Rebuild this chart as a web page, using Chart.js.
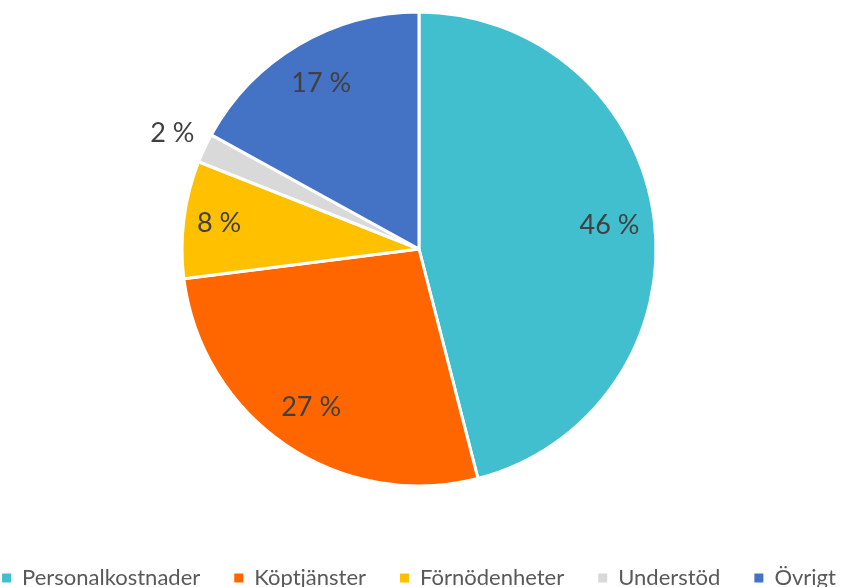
<!DOCTYPE html>
<html>
<head>
<meta charset="utf-8">
<script src="https://cdn.jsdelivr.net/npm/chart.js@4"></script>
<style>
  html, body { margin: 0; padding: 0; background: #fff; overflow: hidden; }
  /* canvas più grande della finestra: la legenda resta tagliata in basso come nell'originale */
  #wrap { position: absolute; left: -70px; top: -40px; width: 982px; height: 639px; }
</style>
</head>
<body>
<div id="wrap"><canvas id="grafico"></canvas></div>
<script>
'use strict';

const categorie = ['Personalkostnader', 'Köptjänster', 'Förnödenheter', 'Understöd', 'Övrigt'];
const valori = [46, 27, 8, 2, 17];
const colori = ['#41BFCE', '#FF6600', '#FFC000', '#D9D9D9', '#4472C4'];

// etichette percentuali dentro/fuori le fette
const etichettePlugin = {
  id: 'etichette',
  afterDatasetsDraw(chart) {
    const ctx = chart.ctx;
    const meta = chart.getDatasetMeta(0);
    const tot = valori.reduce((a, b) => a + b, 0);
    ctx.save();
    ctx.font = '27px Lato, "Open Sans", sans-serif';
    ctx.fillStyle = '#404040';
    ctx.textAlign = 'center';
    ctx.textBaseline = 'middle';
    meta.data.forEach((arc, i) => {
      const p = arc.getProps(['x', 'y', 'startAngle', 'endAngle', 'outerRadius'], true);
      const ang = (p.startAngle + p.endAngle) / 2;
      const pct = valori[i] / tot * 100;
      const r = pct < 5 ? p.outerRadius * 1.15 : p.outerRadius * (pct < 10 ? 0.85 : 0.81);
      ctx.fillText(Math.round(pct) + ' %', p.x + Math.cos(ang) * r, p.y + Math.sin(ang) * r);
    });
    ctx.restore();
  }
};

const legendaDefault = Chart.overrides.pie.plugins.legend.labels.generateLabels;

new Chart(document.getElementById('grafico').getContext('2d'), {
  type: 'pie',
  data: {
    labels: categorie,
    datasets: [{
      data: valori,
      backgroundColor: colori,
      borderColor: '#ffffff',
      borderWidth: 3,
      radius: 237
    }]
  },
  options: {
    responsive: true,
    maintainAspectRatio: false,
    animation: false,
    layout: { padding: { top: 5, left: 0, right: 4, bottom: 0 } },
    plugins: {
      legend: {
        position: 'bottom',
        labels: {
          boxWidth: 9, boxHeight: 9, padding: 34,
          color: '#595959',
          font: { family: 'Lato, "Open Sans", sans-serif', size: 22 },
          generateLabels: chart => legendaDefault(chart).map(l => ({ ...l, lineWidth: 0 }))
        }
      },
      tooltip: { enabled: false }
    }
  },
  plugins: [etichettePlugin]
});
</script>
</body>
</html>
